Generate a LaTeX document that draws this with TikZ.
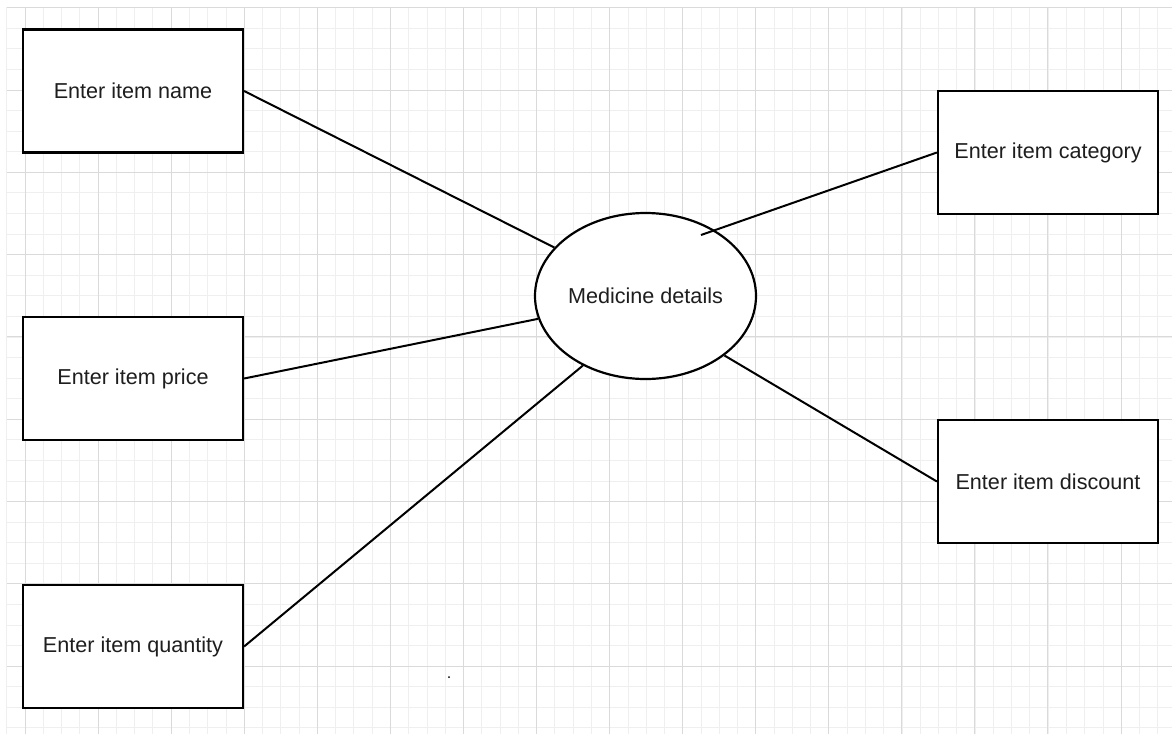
\documentclass[tikz,border=0pt]{standalone}
\usepackage{fontspec}
\setmainfont{Liberation Sans}
\usepackage{tikz}
\usetikzlibrary{shapes.geometric}

\definecolor{gridmajor}{HTML}{DADADA}
\definecolor{gridminor}{HTML}{EFEFEF}
\definecolor{textgray}{HTML}{1E1E1E}

\begin{document}
\begin{tikzpicture}[x=0.5pt, y=-0.5pt,
  inputbox/.style={draw, line width=1.1pt, fill=white, minimum width=110pt,
    minimum height=61.5pt, inner sep=0pt, text=textgray,
    font=\fontsize{10.8}{13}\selectfont},
  process/.style={ellipse, draw, line width=1.1pt, fill=white,
    minimum width=110.5pt, minimum height=83pt, inner sep=0pt, text=textgray,
    font=\fontsize{10.8}{13}\selectfont},
  link/.style={line width=1pt}]

\useasboundingbox (0,0) rectangle (1172,734);
\fill[white] (0,0) rectangle (1172,734);

% background grid
\foreach \k in {-1,...,62}
   \draw[gridminor, line width=0.4pt] ({25+18.27*\k},7) -- ({25+18.27*\k},734);
\foreach \k in {0,...,35}
   \draw[gridminor, line width=0.4pt] (7,{7.7+20.575*\k}) -- (1172,{7.7+20.575*\k});
\foreach \k in {0,...,15}
   \draw[gridmajor, line width=0.5pt] ({25+73.07*\k},7) -- ({25+73.07*\k},734);
\foreach \k in {0,...,8}
   \draw[gridmajor, line width=0.5pt] (7,{7.7+82.3*\k}) -- (1172,{7.7+82.3*\k});

\node[inputbox] (name) at (133,91) {Enter item name};
\node[inputbox] (price) at (133,378.5) {Enter item price};
\node[inputbox] (quantity) at (133,646.5) {Enter item quantity};
\node[inputbox] (category) at (1048,152.5) {Enter item category};
\node[inputbox] (discount) at (1048,481.5) {Enter item discount};
\node[process] (medicine) at (645.5,296) {Medicine details};

\coordinate (catend) at (701,235);

\draw[link] (name.east) -- (medicine.152.6);
\draw[link] (price.east) -- (medicine.192.1);
\draw[link] (quantity.east) -- (medicine.228.2);
\draw[link] (category.west) -- (catend);
\draw[link] (discount.west) -- (medicine.323.5);

\fill (449,677) circle (1);

\end{tikzpicture}
\end{document}
